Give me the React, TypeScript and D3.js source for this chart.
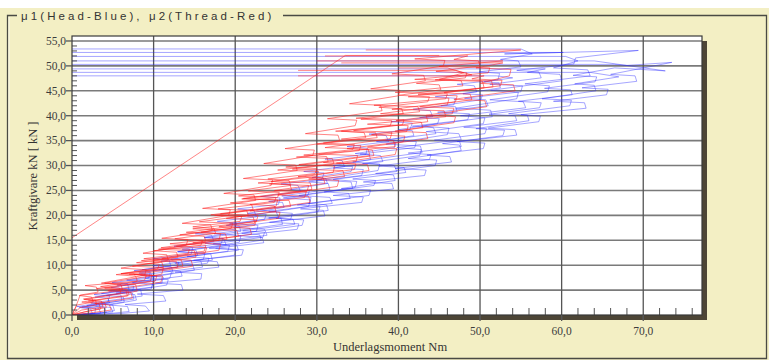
import React from "react";
import * as d3 from "d3";

type Pt = [number, number];

// Axis ticks
const X_TICKS = [0, 10, 20, 30, 40, 50, 60, 70];
const Y_TICKS = [0, 5, 10, 15, 20, 25, 30, 35, 40, 45, 50, 55];

// Head friction runs (torque Nm, clamp force kN)
const blue1: Pt[] = [[0,0],[2.8,0.3],[2.9,1.4],[0.6,1.7],[4.4,2.6],[4.6,3.8],[2.7,4.1],[7.0,5.0],[6.8,6.3],[4.9,6.5],[9.4,7.4],[9.6,8.6],[7.6,8.9],[12.1,9.8],[11.9,11.1],[9.9,11.3],[14.6,12.2],[14.8,13.5],[12.5,13.8],[17.4,14.8],[17.1,16.0],[15.1,16.3],[19.9,17.2],[20.2,18.5],[17.8,18.8],[22.6,19.7],[22.3,21.0],[20.3,21.3],[25.3,22.2],[25.5,23.5],[23.1,23.8],[28.0,24.8],[27.7,26.0],[25.6,26.3],[30.6,27.2],[30.9,28.5],[28.4,28.8],[33.4,29.8],[33.1,31.0],[31.0,31.3],[36.0,32.2],[36.2,33.5],[33.7,33.8],[38.8,34.8],[38.5,36.0],[36.4,36.3],[41.4,37.2],[41.7,38.5],[39.1,38.8],[44.2,39.8],[43.9,41.0],[41.8,41.3],[46.8,42.2],[47.0,43.5],[44.5,43.8],[49.6,44.8],[49.3,46.0],[47.2,46.3],[52.2,47.2],[52.4,48.5],[49.9,48.8],[55.0,49.8],[54.7,51.0],[52.5,51.3],[56.4,52.4],[55.0,53.4],[0,53.4]];
const blue2: Pt[] = [[0,0],[3.5,0.4],[3.3,1.3],[1.2,1.6],[6.1,2.9],[6.0,4.0],[3.6,4.3],[9.8,5.6],[9.9,6.8],[6.7,7.0],[12.4,8.4],[12.2,9.6],[9.9,9.9],[16.1,11.2],[16.3,12.4],[12.9,12.7],[18.9,14.0],[18.6,15.3],[16.2,15.5],[22.6,16.8],[22.8,18.0],[19.3,18.3],[25.3,19.6],[25.0,20.8],[22.6,21.1],[29.1,22.4],[29.3,23.6],[25.7,23.9],[31.6,25.2],[31.4,26.4],[29.0,26.7],[35.5,28.0],[35.7,29.2],[32.0,29.5],[38.1,30.8],[37.8,32.0],[35.3,32.3],[42.0,33.6],[42.2,34.8],[38.4,35.1],[44.6,36.4],[44.3,37.6],[41.7,37.9],[48.5,39.2],[48.7,40.4],[44.8,40.7],[51.0,42.0],[50.7,43.2],[48.1,43.5],[55.0,44.8],[55.2,46.0],[51.2,46.3],[57.5,47.6],[57.2,48.8],[54.5,49.1],[61.5,50.4],[61.7,51.6],[69.4,53.1],[53.0,52.4],[60.2,52.7],[0,52.7]];
const blue3: Pt[] = [[0,0],[4.2,0.5],[4.0,1.5],[1.8,1.9],[7.6,3.2],[7.4,4.4],[4.5,4.8],[11.0,6.4],[11.2,7.6],[8.4,8.0],[16.0,9.6],[15.8,10.8],[12.1,11.2],[19.1,12.8],[19.3,14.0],[16.3,14.4],[23.9,16.0],[23.6,17.2],[20.0,17.6],[26.8,19.2],[27.0,20.4],[24.1,20.8],[31.9,22.4],[31.6,23.6],[27.8,24.0],[34.7,25.6],[34.9,26.8],[32.0,27.2],[39.8,28.8],[39.5,30.0],[35.6,30.4],[42.6,32.0],[42.8,33.2],[39.8,33.6],[47.7,35.2],[47.4,36.4],[43.4,36.8],[50.4,38.4],[50.6,39.6],[47.6,40.0],[55.6,41.6],[55.3,42.8],[51.2,43.2],[58.3,44.8],[58.5,46.0],[55.5,46.4],[63.5,48.0],[63.2,49.2],[59.0,49.6],[62.0,51.0],[60.5,51.9],[0,51.9]];
const blue4: Pt[] = [[0,0],[5.0,0.6],[4.8,1.5],[2.9,1.8],[6.4,2.6],[6.3,3.6],[4.2,3.9],[9.7,5.2],[9.9,6.2],[7.4,6.5],[13.5,7.8],[13.3,8.8],[10.6,9.1],[16.6,10.4],[16.8,11.4],[14.1,11.7],[20.4,13.0],[20.2,14.0],[17.3,14.3],[23.4,15.6],[23.6,16.6],[20.9,16.9],[27.3,18.2],[27.1,19.2],[24.1,19.5],[30.2,20.8],[30.4,21.8],[27.6,22.1],[34.1,23.4],[33.9,24.4],[30.9,24.7],[37.0,26.0],[37.2,27.0],[34.4,27.3],[40.9,28.6],[40.7,29.6],[37.6,29.9],[43.8,31.2],[44.0,32.2],[41.2,32.5],[47.7,33.8],[47.5,34.8],[44.4,35.1],[50.6,36.4],[50.8,37.4],[48.0,37.7],[54.5,39.0],[54.3,40.0],[51.1,40.3],[57.3,41.6],[57.5,42.6],[54.7,42.9],[61.3,44.2],[61.1,45.2],[57.9,45.5],[64.1,46.8],[64.3,47.8],[61.4,48.1],[66.5,49.6],[72.7,49.0],[64.0,51.0],[0,51.0]];
const blue5: Pt[] = [[0,0],[6.0,0.3],[9.5,0.8],[9.0,1.8],[6.5,2.1],[11.5,2.8],[11.2,3.9],[8.0,4.2],[13.6,5.0],[13.4,6.1],[10.2,6.4],[15.8,7.2],[15.9,8.3],[12.6,8.6],[18.0,9.6],[17.8,10.7],[14.9,11.0],[20.8,12.0],[21.0,13.1],[17.6,13.4],[23.5,14.5],[23.3,15.6],[20.4,15.9],[27.6,17.2],[27.8,18.3],[24.2,18.6],[31.0,19.9],[30.8,21.0],[28.0,21.3],[35.5,22.6],[35.7,23.7],[32.0,24.0],[39.4,25.3],[39.2,26.4],[35.7,26.7],[43.2,28.0],[43.4,29.1],[39.6,29.4],[46.5,30.7],[46.3,31.8],[43.5,32.1],[50.4,33.4],[50.6,34.5],[47.2,34.8],[54.5,36.1],[54.3,37.2],[51.0,37.5],[57.2,38.8],[57.4,39.9],[55.0,40.2],[63.0,41.5],[62.8,42.6],[59.0,42.9],[65.5,44.2],[65.7,45.3],[62.5,45.6],[69.2,46.9],[69.0,48.0],[66.0,48.3],[73.5,50.7],[68.0,50.1],[66.5,50.3],[0,50.3]];
const blue6: Pt[] = [[0,0],[3.0,0.2],[5.2,0.9],[5.0,2.0],[2.3,2.4],[8.6,3.8],[8.4,5.1],[4.8,5.5],[12.0,7.4],[12.2,8.7],[8.6,9.1],[17.2,11.0],[17.0,12.3],[13.0,12.7],[20.5,14.6],[20.7,15.9],[17.4,16.3],[25.8,18.2],[25.6,19.5],[21.5,19.9],[29.0,21.8],[29.2,23.1],[25.9,23.5],[34.4,25.4],[34.2,26.7],[30.0,27.1],[37.5,29.0],[37.7,30.3],[34.4,30.7],[42.9,32.6],[42.7,33.9],[38.5,34.3],[46.0,36.2],[46.2,37.5],[42.8,37.9],[51.5,39.8],[51.3,41.1],[47.0,41.5],[54.5,43.4],[54.7,44.7],[51.3,45.1],[60.0,47.0],[59.8,48.3],[55.8,48.7],[58.0,49.4],[0,49.4]];
const blue7: Pt[] = [[0,0],[4.0,0.2],[7.0,0.7],[6.8,1.7],[4.6,2.0],[7.9,3.0],[7.7,4.1],[5.4,4.4],[11.6,6.0],[11.8,7.1],[9.0,7.4],[15.0,9.0],[14.8,10.1],[12.6,10.4],[19.9,12.0],[20.1,13.1],[16.8,13.4],[23.2,15.0],[23.0,16.1],[20.8,16.4],[28.2,18.0],[28.4,19.1],[25.0,19.4],[31.4,21.0],[31.2,22.1],[29.0,22.4],[36.4,24.0],[36.6,25.1],[33.0,25.4],[39.6,27.0],[39.4,28.1],[37.2,28.4],[44.5,30.0],[44.7,31.1],[41.2,31.4],[47.7,33.0],[47.5,34.1],[45.4,34.4],[52.8,36.0],[53.0,37.1],[49.5,37.4],[56.0,39.0],[55.8,40.1],[53.5,40.4],[61.0,42.0],[61.2,43.1],[57.6,43.4],[64.2,45.0],[64.0,46.1],[61.6,46.4],[67.0,47.8],[63.5,48.7],[0,48.7]];
const blue8: Pt[] = [[0,0],[2.5,0.3],[2.3,1.2],[0.9,1.5],[4.6,2.4],[4.4,3.4],[2.8,3.6],[7.4,4.8],[7.6,5.8],[5.5,6.0],[10.0,7.2],[9.8,8.2],[8.2,8.4],[12.9,9.6],[13.1,10.6],[10.9,10.8],[15.4,12.0],[15.2,13.0],[13.5,13.2],[18.3,14.4],[18.5,15.4],[16.2,15.6],[20.7,16.8],[20.5,17.8],[18.9,18.0],[23.6,19.2],[23.8,20.2],[21.5,20.4],[26.0,21.6],[25.8,22.6],[24.1,22.8],[28.9,24.0],[29.1,25.0],[26.8,25.2],[31.3,26.4],[31.1,27.4],[29.4,27.6],[34.2,28.8],[34.4,29.8],[32.0,30.0],[36.6,31.2],[36.4,32.2],[34.7,32.4],[39.5,33.6],[39.7,34.6],[37.3,34.8],[41.9,36.0],[41.7,37.0],[40.0,37.2],[44.8,38.4],[45.0,39.4],[42.6,39.6],[47.2,40.8],[47.0,41.8],[45.2,42.0],[50.1,43.2],[50.3,44.2],[47.9,44.4],[52.5,45.6],[52.3,46.6],[50.5,46.8],[54.0,47.6],[52.0,48.0],[0,48.0]];

// Thread friction runs (torque Nm, clamp force kN)
const red1: Pt[] = [[0,0],[0.6,2.0],[2.6,2.6],[2.4,3.6],[0.9,3.9],[6.2,5.0],[6.0,6.1],[3.6,6.4],[8.9,8.0],[9.1,9.1],[6.0,9.4],[11.8,11.0],[11.6,12.1],[8.7,12.4],[14.0,14.0],[14.2,15.1],[11.0,15.4],[17.2,17.0],[17.0,18.1],[13.5,18.4],[19.2,20.0],[19.4,21.1],[16.0,21.4],[22.5,23.0],[22.3,24.1],[18.6,24.4],[24.4,26.0],[24.6,27.1],[21.0,27.4],[27.6,29.0],[27.4,30.1],[23.5,30.4],[29.5,32.0],[29.7,33.1],[26.1,33.4],[32.8,35.0],[32.6,36.1],[28.6,36.4],[34.7,38.0],[34.9,39.1],[31.3,39.4],[38.0,41.0],[37.8,42.1],[34.0,42.4],[40.0,44.0],[40.2,45.1],[36.6,45.4],[43.3,47.0],[43.1,48.1],[39.2,48.4],[45.5,50.0],[45.7,51.1],[42.0,51.4],[55.0,53.2],[36.0,53.2]];
const red2: Pt[] = [[0,0],[1.0,1.5],[3.0,2.0],[2.9,3.0],[1.4,3.2],[6.0,4.4],[5.8,5.4],[3.5,5.7],[8.9,7.0],[9.1,8.0],[6.0,8.3],[11.2,9.6],[11.0,10.6],[8.5,10.9],[14.2,12.2],[14.4,13.2],[10.9,13.5],[16.4,14.8],[16.2,15.8],[13.2,16.1],[19.5,17.4],[19.7,18.4],[15.6,18.7],[21.6,20.0],[21.4,21.0],[17.9,21.3],[24.8,22.6],[25.0,23.6],[20.4,23.9],[26.9,25.2],[26.7,26.2],[22.8,26.5],[30.0,27.8],[30.2,28.8],[25.2,29.1],[32.1,30.4],[31.9,31.4],[27.5,31.7],[35.2,33.0],[35.4,34.0],[30.0,34.3],[37.4,35.6],[37.2,36.6],[32.3,36.9],[40.5,38.2],[40.7,39.2],[34.8,39.5],[42.6,40.8],[42.4,41.8],[37.0,42.1],[45.8,43.4],[46.0,44.4],[39.6,44.7],[47.9,46.0],[47.7,47.0],[42.0,47.3],[51.0,48.6],[51.2,49.6],[45.0,49.9],[52.8,51.0],[30.0,51.0]];
const red3: Pt[] = [[0,0],[1.2,1.0],[3.8,1.6],[3.6,2.8],[1.5,3.1],[8.0,4.8],[7.8,6.1],[4.0,6.4],[11.0,8.2],[11.2,9.5],[7.4,9.8],[15.2,11.6],[15.0,12.9],[10.6,13.2],[18.0,15.0],[18.2,16.3],[14.0,16.6],[22.4,18.4],[22.2,19.7],[17.5,20.0],[25.0,21.8],[25.2,23.1],[21.0,23.4],[29.4,25.2],[29.2,26.5],[24.4,26.8],[32.0,28.6],[32.2,29.9],[27.8,30.2],[36.5,32.0],[36.3,33.3],[31.0,33.6],[39.0,35.4],[39.2,36.7],[34.5,37.0],[43.6,38.8],[43.4,40.1],[37.8,40.4],[46.0,42.2],[46.2,43.5],[41.2,43.8],[50.5,45.6],[50.3,46.9],[44.5,47.2],[49.0,48.2],[47.0,49.1],[27.7,49.1]];
const red4: Pt[] = [[0,0],[2.0,0.8],[4.2,1.5],[4.0,2.5],[2.0,2.8],[7.0,4.0],[6.8,5.1],[4.0,5.4],[10.2,6.8],[10.4,7.9],[7.0,8.2],[13.0,9.6],[12.8,10.7],[9.9,11.0],[16.3,12.4],[16.5,13.5],[12.8,13.8],[19.0,15.2],[18.8,16.3],[15.8,16.6],[22.4,18.0],[22.6,19.1],[18.9,19.4],[25.0,20.8],[24.8,21.9],[21.8,22.2],[28.5,23.6],[28.7,24.7],[24.8,25.0],[31.0,26.4],[30.8,27.5],[27.7,27.8],[34.6,29.2],[34.8,30.3],[30.8,30.6],[37.0,32.0],[36.8,33.1],[33.7,33.4],[40.6,34.8],[40.8,35.9],[36.7,36.2],[43.0,37.6],[42.8,38.7],[39.7,39.0],[46.6,40.4],[46.8,41.5],[42.6,41.8],[49.0,43.2],[48.8,44.3],[45.6,44.6],[52.5,46.0],[52.7,47.1],[49.0,47.4],[50.5,48.0],[27.7,48.0]];
const red5: Pt[] = [[0,0],[2.6,0.5],[4.8,1.0],[4.6,2.0],[2.8,2.3],[7.4,3.4],[7.2,4.6],[4.4,4.9],[10.9,6.6],[11.1,7.8],[7.6,8.1],[14.8,9.8],[14.6,11.0],[11.0,11.3],[18.0,13.0],[18.2,14.2],[14.8,14.5],[22.0,16.2],[21.8,17.4],[18.0,17.7],[25.3,19.4],[25.5,20.6],[21.8,20.9],[29.2,22.6],[29.0,23.8],[25.2,24.1],[32.5,25.8],[32.7,27.0],[29.0,27.3],[36.4,29.0],[36.2,30.2],[32.4,30.5],[39.6,32.2],[39.8,33.4],[36.2,33.7],[43.6,35.4],[43.4,36.6],[39.6,36.9],[46.8,38.6],[47.0,39.8],[43.4,40.1],[50.8,41.8],[50.6,43.0],[46.8,43.3],[54.3,45.0],[54.1,46.2],[50.0,46.5],[53.6,48.0],[53.8,49.3],[49.5,49.6],[52.8,50.6],[33.0,50.6]];
const red6: Pt[] = [[0,0],[0.5,1.8],[1.0,4.0],[3.2,4.6],[3.0,5.6],[1.6,5.9],[8.0,6.8],[7.8,7.8],[5.4,8.1],[10.5,9.2],[10.7,10.2],[7.9,10.5],[13.0,11.6],[12.8,12.6],[10.0,12.9],[15.8,14.0],[16.0,15.0],[12.6,15.3],[17.6,16.4],[17.4,17.4],[14.8,17.7],[20.6,18.8],[20.8,19.8],[17.0,20.1],[22.2,21.2],[22.0,22.2],[19.4,22.5],[25.2,23.6],[25.4,24.6],[21.6,24.9],[26.8,26.0],[26.6,27.0],[24.0,27.3],[29.8,28.4],[30.0,29.4],[26.2,29.7],[31.4,30.8],[31.2,31.8],[28.4,32.1],[34.4,33.2],[34.6,34.2],[30.8,34.5],[36.0,35.6],[35.8,36.6],[33.0,36.9],[39.0,38.0],[39.2,39.0],[35.4,39.3],[40.6,40.4],[40.4,41.4],[37.6,41.7],[43.6,42.8],[43.8,43.8],[40.0,44.1],[45.2,45.2],[45.0,46.2],[42.2,46.5],[48.2,47.6],[48.4,48.6],[44.6,48.9],[50.0,50.0],[49.8,51.0],[46.8,51.3],[48.5,52.0],[31.0,52.0]];
const red7: Pt[] = [[0,0],[1.5,0.6],[3.5,1.2],[3.3,2.3],[1.2,2.6],[6.8,3.8],[6.6,5.0],[3.0,5.3],[9.6,6.8],[9.8,8.0],[6.0,8.3],[13.6,9.8],[13.4,11.0],[8.8,11.3],[16.2,12.8],[16.4,14.0],[12.0,14.3],[20.4,15.8],[20.2,17.0],[14.8,17.3],[22.6,18.8],[22.8,20.0],[18.2,20.3],[26.8,21.8],[26.6,23.0],[20.8,23.3],[28.8,24.8],[29.0,26.0],[24.2,26.3],[33.4,27.8],[33.2,29.0],[27.0,29.3],[34.8,30.8],[35.0,32.0],[30.2,32.3],[39.6,33.8],[39.4,35.0],[33.0,35.3],[41.0,36.8],[41.2,38.0],[36.2,38.3],[45.8,39.8],[45.6,41.0],[39.2,41.3],[47.0,42.8],[47.2,44.0],[42.4,44.3],[51.6,45.8],[51.4,47.0],[45.0,47.3],[48.0,48.6],[46.0,49.6],[40.0,49.6]];
const redRamp: Pt[] = [[0,15.5],[33.5,52.1],[45.0,52.1]];

const blueRuns = [blue1, blue2, blue3, blue4, blue5, blue6, blue7, blue8];
const redRuns = [red1, red2, red3, red4, red5, red6, red7, redRamp];

const W = 769;
const H = 362;
const PLOT = { left: 72, right: 702, top: 36, bottom: 315 };
const CREAM = "#f3efc4";
const SERIF = "Times New Roman, Liberation Serif, DejaVu Serif, serif";
const SANS = "Arial, Liberation Sans, sans-serif";

const fmt = (v: number) => v.toFixed(1).replace(".", ",");

export default function App() {
  const x = d3.scaleLinear().domain([0, 77.2]).range([PLOT.left, PLOT.right]);
  const y = d3.scaleLinear().domain([0, 56]).range([PLOT.bottom, PLOT.top]);
  const line = d3
    .line<Pt>()
    .x((d) => x(d[0]))
    .y((d) => y(d[1]));

  const minorY = d3.range(0, 56, 1).filter((v) => v % 5 !== 0);
  const minorX = d3.range(0, 77, 2).filter((v) => v % 10 !== 0);

  return (
    <svg
      width={W}
      height={H}
      style={{ position: "absolute", left: 0, top: 0, display: "block" }}
    >
      <rect x={0} y={0} width={W} height={H} fill="#ffffff" />
      <rect x={0} y={8} width={W} height={352} fill={CREAM} />

      {/* group box frame */}
      <path
        d="M8.5,15.5 H17 M283,15.5 H766.5 V358.5 H7.5 V15.5 H9"
        fill="none"
        stroke="#4a4a44"
        strokeWidth={1.3}
      />
      <path d="M9,17 V357" fill="none" stroke="#ffffff" strokeWidth={1} opacity={0.7} />
      <text
        x={21}
        y={19.5}
        fontFamily={SANS}
        fontSize={11.5}
        letterSpacing={3.1}
        fill="#333"
      >
        μ1(Head-Blue), μ2(Thread-Red)
      </text>

      {/* plot shadow and face */}
      <rect
        x={PLOT.left + 5}
        y={PLOT.top + 5}
        width={PLOT.right - PLOT.left}
        height={PLOT.bottom - PLOT.top}
        fill="#4d4536"
      />
      <rect
        x={PLOT.left}
        y={PLOT.top}
        width={PLOT.right - PLOT.left}
        height={PLOT.bottom - PLOT.top}
        fill="#ffffff"
      />

      {/* grid */}
      {Y_TICKS.filter((v) => v > 0).map((v) => (
        <line
          key={"gy" + v}
          x1={PLOT.left}
          x2={PLOT.right}
          y1={y(v)}
          y2={y(v)}
          stroke="#7a7a7a"
          strokeWidth={1.6}
        />
      ))}
      {X_TICKS.filter((v) => v > 0).map((v) => (
        <line
          key={"gx" + v}
          x1={x(v)}
          x2={x(v)}
          y1={PLOT.top}
          y2={PLOT.bottom + 5}
          stroke="#555"
          strokeWidth={1.3}
        />
      ))}

      {/* measurement runs */}
      <g clipPath="url(#plotClip)">
        {blueRuns.map((run, i) => (
          <path
            key={"b" + i}
            d={line(run) ?? ""}
            fill="none"
            stroke="#2a2aff"
            strokeOpacity={0.42}
            strokeWidth={1}
            strokeLinejoin="round"
          />
        ))}
        {redRuns.map((run, i) => (
          <path
            key={"r" + i}
            d={line(run) ?? ""}
            fill="none"
            stroke="#ff2020"
            strokeOpacity={0.55}
            strokeWidth={1}
            strokeLinejoin="round"
          />
        ))}
      </g>
      <defs>
        <clipPath id="plotClip">
          <rect
            x={PLOT.left}
            y={PLOT.top}
            width={PLOT.right - PLOT.left}
            height={PLOT.bottom - PLOT.top}
          />
        </clipPath>
      </defs>

      {/* minor ticks */}
      {minorY.map((v) => (
        <line
          key={"my" + v}
          x1={PLOT.left}
          x2={PLOT.left + 5}
          y1={y(v)}
          y2={y(v)}
          stroke="#555"
          strokeWidth={1}
        />
      ))}
      {minorX.map((v) => (
        <line
          key={"mx" + v}
          x1={x(v)}
          x2={x(v)}
          y1={PLOT.bottom}
          y2={PLOT.bottom - 7}
          stroke="#555"
          strokeWidth={1}
        />
      ))}

      {/* plot border */}
      <rect
        x={PLOT.left}
        y={PLOT.top}
        width={PLOT.right - PLOT.left}
        height={PLOT.bottom - PLOT.top}
        fill="none"
        stroke="#3a3a3a"
        strokeWidth={1.2}
      />

      {/* y axis */}
      {Y_TICKS.map((v) => (
        <g key={"ty" + v}>
          <line
            x1={PLOT.left - 6}
            x2={PLOT.left}
            y1={y(v)}
            y2={y(v)}
            stroke="#555"
            strokeWidth={1.3}
          />
          <text
            x={PLOT.left - 6}
            y={y(v) + 3.8}
            textAnchor="end"
            fontFamily={SERIF}
            fontSize={11.5}
            fill="#3c3c3c"
          >
            {fmt(v)}
          </text>
        </g>
      ))}
      {/* x axis */}
      {X_TICKS.map((v) => (
        <g key={"tx" + v}>
          <line
            x1={x(v)}
            x2={x(v)}
            y1={PLOT.bottom}
            y2={PLOT.bottom + 6}
            stroke="#555"
            strokeWidth={1.3}
          />
          <text
            x={x(v)}
            y={335}
            textAnchor="middle"
            fontFamily={SERIF}
            fontSize={11.5}
            fill="#3c3c3c"
          >
            {fmt(v)}
          </text>
        </g>
      ))}

      <text
        x={390}
        y={351}
        textAnchor="middle"
        fontFamily={SERIF}
        fontSize={12.5}
        fill="#333"
      >
        Underlagsmoment Nm
      </text>
      <text
        transform="translate(37,176) rotate(-90)"
        textAnchor="middle"
        fontFamily={SERIF}
        fontSize={12.5}
        fill="#333"
      >
        Kraftgivare kN [ kN ]
      </text>
    </svg>
  );
}
